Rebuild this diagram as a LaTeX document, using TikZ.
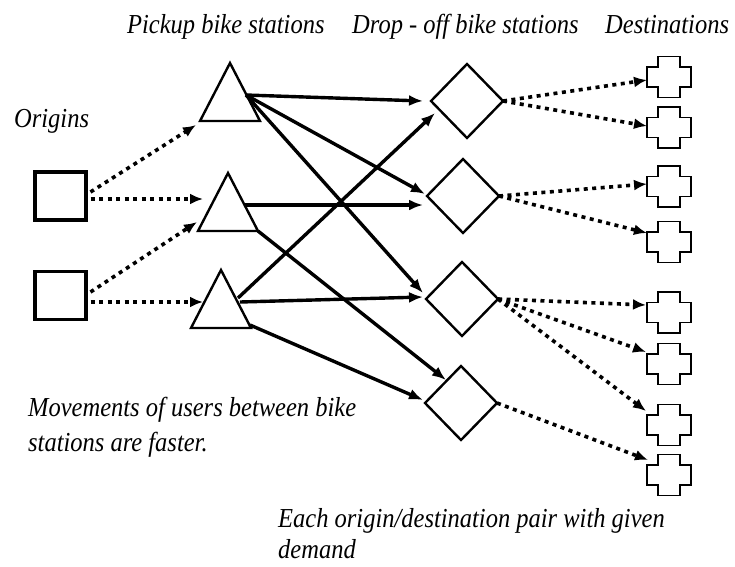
\documentclass[tikz,border=0pt]{standalone}
\usepackage{fontspec}
\setmainfont{Liberation Serif}
\usetikzlibrary{arrows.meta,shapes.geometric}
\newcommand\plusnode[2]{%
  \node[plusbox] (#1) at (#2) {};
  \draw[plusline] ([shift={(-11,-20.5)}]#1.center) -- ++(22,0) -- ++(0,10.5) -- ++(11,0) -- ++(0,20) -- ++(-11,0) -- ++(0,10.5) -- ++(-22,0) -- ++(0,-10.5) -- ++(-11,0) -- ++(0,-20) -- ++(11,0) -- cycle;}
\newcommand\trinode[2]{%
  \node[tribox] (#1) at (#2) {};
  \draw[triline] (#1.south west) -- (#1.north) -- (#1.south east) -- cycle;}
\newcommand\tallitext[1]{\scalebox{1}[1.12]{#1}}
\begin{document}
\begin{tikzpicture}[x=1pt,y=-1pt,
  lbl/.style={font=\itshape\fontsize{24.5}{30}\selectfont, inner sep=0pt, anchor=base west},
  origin/.style={draw, line width=3.5pt, minimum width=51pt, minimum height=48pt, inner sep=0pt, outer sep=0pt},
  tribox/.style={minimum width=60pt, minimum height=58pt, inner sep=0pt, outer sep=0pt},
  triline/.style={line width=2.4pt, line join=miter},
  drop/.style={diamond, draw, line width=2.4pt, minimum width=72pt, minimum height=74pt, inner sep=0pt, outer sep=0pt},
  plusbox/.style={minimum width=44pt, minimum height=41pt, inner sep=0pt, outer sep=0pt},
  plusline/.style={line width=1.4pt},
  walk/.style={line width=3.6pt, dash pattern=on 4pt off 4.5pt, -{Latex[length=13pt,width=11pt]}},
  ride/.style={line width=3.4pt, -{Latex[length=14pt,width=11pt]}}
]
\useasboundingbox (0,0) rectangle (735,566);

% labels
\node[lbl] (lpick) at (127,33) {\tallitext{Pickup bike stations}};
\node[lbl] (ldrop) at (352,33) {\tallitext{Drop - off bike stations}};
\node[lbl] (ldest) at (605,33) {\tallitext{Destinations}};
\node[lbl] (lorig) at (14,127) {\tallitext{Origins}};
\node[lbl] (lmov1) at (28,416) {\tallitext{Movements of users between bike}};
\node[lbl] (lmov2) at (28,451) {\tallitext{stations are faster.}};
\node[lbl] (lpair1) at (278,527) {\tallitext{Each origin/destination pair with given}};
\node[lbl] (lpair2) at (278,558) {\tallitext{demand}};

% origins
\node[origin] (o1) at (60.5,196) {};
\node[origin] (o2) at (60.5,295.5) {};

% pickup stations
\trinode{t1}{230,92}
\trinode{t2}{228,202}
\trinode{t3}{221,299}

% drop-off stations
\node[drop] (d1) at (467,101) {};
\node[drop] (d2) at (463,196) {};
\node[drop] (d3) at (462,299) {};
\node[drop] (d4) at (461,403) {};

% destinations
\plusnode{c1}{669,77}
\plusnode{c2}{669,127.5}
\plusnode{c3}{669,186.5}
\plusnode{c4}{669,242}
\plusnode{c5}{669,312.5}
\plusnode{c6}{669,364}
\plusnode{c7}{669,425}
\plusnode{c8}{669,475}

% walking: origins -> pickup
\draw[walk] ([shift={(30,-4)}]o1.center) -- ([shift={(-34,33)}]t1.center);
\draw[walk] ([shift={(30,3)}]o1.center) -- ([shift={(-25,-3)}]t2.center);
\draw[walk] ([shift={(30,-3.5)}]o2.center) -- ([shift={(-31,20)}]t2.center);
\draw[walk] ([shift={(30,6.5)}]o2.center) -- ([shift={(-18,3)}]t3.center);

% riding: pickup -> drop-off
\draw[ride] ([shift={(16,3)}]t1.center) -- ([shift={(-44,0)}]d1.center);
\draw[ride] ([shift={(16,3)}]t1.center) -- ([shift={(-38,-2)}]d2.center);
\draw[ride] ([shift={(16,3)}]t1.center) -- ([shift={(-39,-6)}]d3.center);
\draw[ride] ([shift={(17,3)}]t2.center) -- ([shift={(-40,9)}]d2.center);
\draw[ride] (t2.south east) -- ([shift={(-15,-23)}]d4.center);
\draw[ride] ([shift={(17,-1)}]t3.center) -- ([shift={(-32,12)}]d1.center);
\draw[ride] ([shift={(19,3)}]t3.center) -- ([shift={(-39,-2)}]d3.center);
\draw[ride] ([shift={(29,26)}]t3.center) -- ([shift={(-38,-3)}]d4.center);

% walking: drop-off -> destinations
\draw[walk] (d1.east) -- ([shift={(-22,3)}]c1.center);
\draw[walk] (d1.east) -- ([shift={(-22,-1.5)}]c2.center);
\draw[walk] (d2.east) -- ([shift={(-22,-2.5)}]c3.center);
\draw[walk] (d2.east) -- ([shift={(-22,-9)}]c4.center);
\draw[walk] (d3.east) -- ([shift={(-23,-7.5)}]c5.center);
\draw[walk] (d3.east) -- ([shift={(-23,-12)}]c6.center);
\draw[walk] (d3.east) -- ([shift={(-23,-14)}]c7.center);
\draw[walk] (d4.east) -- ([shift={(-21,-15)}]c8.center);
\end{tikzpicture}
\end{document}
